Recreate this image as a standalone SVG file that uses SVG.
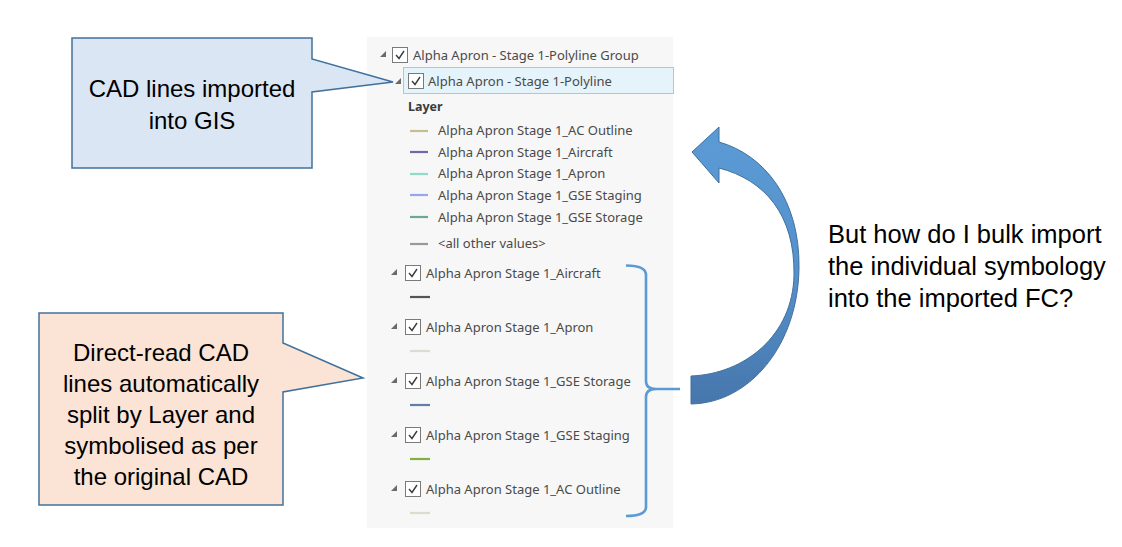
<svg xmlns="http://www.w3.org/2000/svg" width="1122" height="547" viewBox="0 0 1122 547">
<style>
.callout{font-family:"Liberation Sans",Arial,sans-serif;font-size:24px;fill:#000;text-anchor:middle}
.note{font-family:"Liberation Sans",Arial,sans-serif;font-size:25.5px;fill:#000}
.t{font-family:"Noto Sans","Open Sans",sans-serif;font-size:13px;fill:#4a4a4a}
.b{font-family:"Noto Sans","Open Sans",sans-serif;font-size:12.5px;fill:#3a3a3a;font-weight:bold}
.cb{fill:#fff;stroke:#7a7a7a;stroke-width:1}
.ck{fill:none;stroke:#3c3c3c;stroke-width:1.4}
.tri{fill:#6a6a6a}
.sw{stroke-width:2.2;fill:none}
.co{stroke:#41719c;stroke-width:1.5}
</style>
<defs>
<linearGradient id="ag" x1="0" y1="0" x2="0" y2="1">
<stop offset="0" stop-color="#5b9bd5"/>
<stop offset="0.55" stop-color="#5590cb"/>
<stop offset="1" stop-color="#4676ac"/>
</linearGradient>
<g id="box"><rect x="0" y="0" width="15" height="15" class="cb"/><path d="M3.5,7.5 L6.5,11 L11.5,3.5" class="ck"/></g>
<path id="tr" d="M6,0 L6,6 L0,6 Z" class="tri"/>
</defs>
<rect width="1122" height="547" fill="#fff"/>

<g id="panel">
<rect x="367" y="37" width="306" height="491" fill="#f7f7f7"/>
<rect x="403.5" y="67.5" width="270" height="26" fill="#e5f3fb" stroke="#99cdee"/>
<use href="#tr" x="380" y="51"/>
<use href="#box" x="392.5" y="47.5"/>
<text x="413" y="60" class="t">Alpha Apron - Stage 1-Polyline Group</text>
<use href="#tr" x="395" y="78"/>
<use href="#box" x="408.5" y="73.5"/>
<text x="428" y="86" class="t">Alpha Apron - Stage 1-Polyline</text>
<text x="408" y="111" class="b">Layer</text>
<line x1="410" y1="131" x2="428" y2="131" class="sw" stroke="#c8bd90"/>
<text x="438" y="135" class="t">Alpha Apron Stage 1_AC Outline</text>
<line x1="410" y1="152" x2="428" y2="152" class="sw" stroke="#6e6aa8"/>
<text x="438" y="157" class="t">Alpha Apron Stage 1_Aircraft</text>
<line x1="410" y1="174" x2="428" y2="174" class="sw" stroke="#8fdccb"/>
<text x="438" y="178" class="t">Alpha Apron Stage 1_Apron</text>
<line x1="410" y1="195" x2="428" y2="195" class="sw" stroke="#95a8ee"/>
<text x="438" y="200" class="t">Alpha Apron Stage 1_GSE Staging</text>
<line x1="410" y1="217" x2="428" y2="217" class="sw" stroke="#6aab90"/>
<text x="438" y="222" class="t">Alpha Apron Stage 1_GSE Storage</text>
<line x1="410" y1="244" x2="428" y2="244" class="sw" stroke="#999"/>
<text x="438" y="248" class="t">&lt;all other values&gt;</text>

<use href="#tr" x="391" y="269"/>
<use href="#box" x="405.5" y="265.5"/>
<text x="426" y="278" class="t">Alpha Apron Stage 1_Aircraft</text>
<line x1="410" y1="297" x2="430" y2="297" class="sw" stroke="#555"/>

<use href="#tr" x="391" y="323"/>
<use href="#box" x="405.5" y="319.5"/>
<text x="426" y="332" class="t">Alpha Apron Stage 1_Apron</text>
<line x1="410" y1="351" x2="430" y2="351" class="sw" stroke="#dcdcd4"/>

<use href="#tr" x="391" y="377"/>
<use href="#box" x="405.5" y="373.5"/>
<text x="426" y="386" class="t">Alpha Apron Stage 1_GSE Storage</text>
<line x1="410" y1="405" x2="430" y2="405" class="sw" stroke="#5f7fa8"/>

<use href="#tr" x="391" y="431"/>
<use href="#box" x="405.5" y="427.5"/>
<text x="426" y="440" class="t">Alpha Apron Stage 1_GSE Staging</text>
<line x1="410" y1="459" x2="430" y2="459" class="sw" stroke="#80b040"/>

<use href="#tr" x="391" y="485"/>
<use href="#box" x="405.5" y="481.5"/>
<text x="426" y="494" class="t">Alpha Apron Stage 1_AC Outline</text>
<line x1="410" y1="513" x2="430" y2="513" class="sw" stroke="#dcdccc"/>
</g>

<g id="callout-gis">
<path d="M72,38 L312,38 L312,59 L393,82 L312,92 L312,168 L72,168 Z" fill="#dae6f4" class="co"/>
<text x="192" y="97" class="callout">CAD lines imported</text>
<text x="192" y="129" class="callout">into GIS</text>
</g>

<g id="callout-cad">
<path d="M39,313 L283,313 L283,343 L363,378 L283,392 L283,505 L39,505 Z" fill="#fbe4d6" class="co"/>
<text x="161" y="361" class="callout">Direct-read CAD</text>
<text x="161" y="392" class="callout">lines automatically</text>
<text x="161" y="423" class="callout">split by Layer and</text>
<text x="161" y="454" class="callout">symbolised as per</text>
<text x="161" y="485" class="callout">the original CAD</text>
</g>

<g id="question">
<text x="828" y="243" class="note">But how do I bulk import</text>
<text x="828" y="275" class="note">the individual symbology</text>
<text x="828" y="307" class="note">into the imported FC?</text>
</g>

<g id="connectors">
<path d="M626,265.5 Q646,265.5 646,275 L646,381 Q646,389 656,389 L680,389 M656,389 Q646,389 646,397 L646,507 Q646,516 626,516" fill="none" stroke="#5b9bd5" stroke-width="2.6"/>
<path d="M719,142 C765,155 800,200 799,268 C798,345 750,403 691,404 L691,376 C745,374 793,335 794,275 C795,215 765,180 719,168 L719,183 L692,152 L719,127 Z" fill="url(#ag)" stroke="#41719c" stroke-width="1"/>
</g>
</svg>
